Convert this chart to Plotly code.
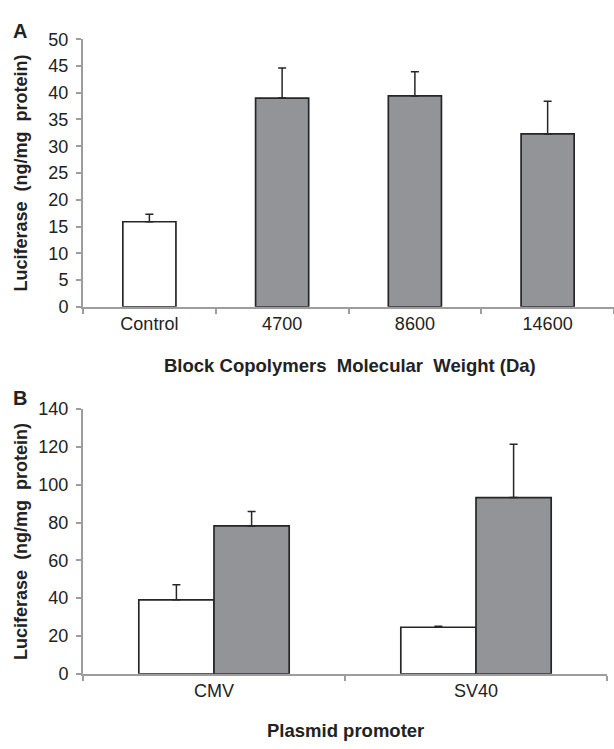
import plotly.graph_objects as go

# Panel A data
a_categories = ["Control", "4700", "8600", "14600"]
a_values = [15.9, 39.0, 39.4, 32.3]
a_errors = [1.4, 5.6, 4.5, 6.1]
a_colors = ["#ffffff", "#939498", "#939498", "#939498"]

# Panel B data
b_categories = ["CMV", "SV40"]
b_control = [39.1, 24.6]
b_control_err = [8.0, 0.5]
b_copolymer = [78.2, 93.2]
b_copolymer_err = [7.6, 28.2]

W, H = 614, 749
L = 83
FONT = "Liberation Sans, Arial, Helvetica, sans-serif"
AXC = "#9d9d9d"
TXT = "#222222"
EDGE = "#262626"

def py(p):
    return 1 - p / H

def px(p):
    return (p - L) / (W - L)

fig = go.Figure()

fig.add_trace(go.Bar(
    x=a_categories, y=a_values, width=0.4,
    marker=dict(color=a_colors, line=dict(color=EDGE, width=1.7)),
    error_y=dict(type="data", array=a_errors, symmetric=False, arrayminus=[0]*4,
                 color=EDGE, thickness=1.5, width=4),
    xaxis="x", yaxis="y", showlegend=False))

fig.add_trace(go.Bar(
    x=b_categories, y=b_control, width=0.287, offset=-0.287,
    marker=dict(color="#ffffff", line=dict(color=EDGE, width=1.7)),
    error_y=dict(type="data", array=b_control_err, symmetric=False, arrayminus=[0]*2,
                 color=EDGE, thickness=1.5, width=4),
    xaxis="x2", yaxis="y2", showlegend=False))

fig.add_trace(go.Bar(
    x=b_categories, y=b_copolymer, width=0.287, offset=0.0,
    marker=dict(color="#939498", line=dict(color=EDGE, width=1.7)),
    error_y=dict(type="data", array=b_copolymer_err, symmetric=False, arrayminus=[0]*2,
                 color=EDGE, thickness=1.5, width=4),
    xaxis="x2", yaxis="y2", showlegend=False))

xcommon = dict(type="category", showline=True, linecolor=AXC, linewidth=2,
               ticks="outside", tickson="boundaries", ticklen=5, tickcolor=AXC,
               tickwidth=1.5, showgrid=False, zeroline=False,
               tickfont=dict(family=FONT, size=18, color=TXT), fixedrange=True)
ycommon = dict(showline=True, linecolor=AXC, linewidth=2, ticks="outside",
               ticklen=5, tickcolor=AXC, tickwidth=1.5, showgrid=False,
               zeroline=False, tickfont=dict(family=FONT, size=18, color=TXT),
               ticklabelstandoff=4)

fig.update_layout(
    width=W, height=H,
    margin=dict(l=L, r=0, t=0, b=0),
    paper_bgcolor="white", plot_bgcolor="white",
    barmode="overlay",
    xaxis=dict(**xcommon, domain=[0, 1], anchor="y", range=[-0.5, 3.5]),
    yaxis=dict(**ycommon, domain=[py(305), py(30)], anchor="x", range=[0, 50], dtick=5),
    xaxis2=dict(**xcommon, domain=[0, px(607)], anchor="y2", range=[-0.5, 1.5]),
    yaxis2=dict(**ycommon, domain=[py(682), py(410)], anchor="x2", range=[0, 140], dtick=20),
)

ann = [
    dict(text="<b>A</b>", x=px(20), y=py(21.5), size=20, angle=0),
    dict(text="<b>B</b>", x=px(20), y=py(399), size=20, angle=0),
    dict(text="<b>Block Copolymers  Molecular  Weight (Da)</b>", x=px(349.6), y=py(365), size=18.5, angle=0),
    dict(text="<b>Plasmid promoter</b>", x=px(345), y=py(740), size=18.5, angle=0),
    dict(text="<b>Luciferase  (ng/mg  protein)</b>", x=px(21.5), y=py(167.5), size=18, angle=-90),
    dict(text="<b>Luciferase  (ng/mg  protein)</b>", x=px(21.5), y=py(546), size=18, angle=-90),
]
for a in ann:
    fig.add_annotation(text=a["text"], x=a["x"], y=a["y"], xref="paper", yref="paper",
                       xanchor="center", yanchor="middle", showarrow=False,
                       textangle=a["angle"],
                       font=dict(family=FONT, size=a["size"], color=TXT))

fig.write_html("out.html")
